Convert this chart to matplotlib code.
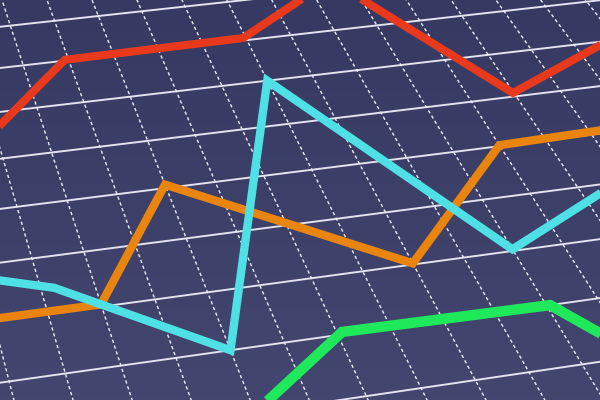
import numpy as np
import matplotlib
matplotlib.use("Agg")
import matplotlib.pyplot as plt
from matplotlib.transforms import Transform

# series values: x in grid columns, y in grid rows
red_x = [-1.0, 0.92, 4.94, 7.57, 9.98, 13.5]
red_y = [5.61, 7.02, 7.06, 8.28, 5.08, 6.23]
orange_x = [-2.0, 0.0, 2.0, 6.0, 9.0, 13.0]
orange_y = [2.04, 2.04, 4.07, 2.02, 4.02, 4.10]
cyan_x = [-2.5, -0.75, 2.0, 5.0, 8.0, 11.0]
cyan_y = [2.90, 2.43, 1.00, 6.00, 2.03, 3.05]
green_x = [2.0, 4.1, 8.07, 9.0]
green_y = [0.0, 1.04, 1.00, 0.10]

cols = np.arange(-3, 15)
rows = np.arange(-2, 10)

# camera: four grid corners and where they land in the picture (pixels)
grid_pts = [(0, 0), (12, 0), (12, 7), (0, 7)]
pix_pts = [(141.6, 429.2), (789.5, 333.9), (545.5, 6.36), (23.27, 65.37)]


def homography(src, dst):
    A, b = [], []
    for (u, v), (x, y) in zip(src, dst):
        A.append([u, v, 1, 0, 0, 0, -u * x, -v * x]); b.append(x)
        A.append([0, 0, 0, u, v, 1, -u * y, -v * y]); b.append(y)
    h = np.linalg.solve(np.array(A, float), np.array(b, float))
    return np.append(h, 1).reshape(3, 3)


class Perspective(Transform):
    input_dims = output_dims = 2
    is_separable = False

    def __init__(self, H):
        super().__init__()
        self.H = H

    def transform_non_affine(self, values):
        p = np.column_stack([values, np.ones(len(values))]) @ self.H.T
        return p[:, :2] / p[:, 2:3]


fig = plt.figure(figsize=(6, 4), dpi=100)
fig.patch.set_facecolor("#3b3e68")
ax = fig.add_axes([0, 0, 1, 1])
ax.set_xlim(0, 600)
ax.set_ylim(400, 0)
ax.axis("off")

# subtle vertical shading of the board
shade = np.linspace(0, 1, 200)[:, None]
ax.imshow(shade, extent=[0, 600, 400, 0], aspect="auto", zorder=0,
          cmap=matplotlib.colors.LinearSegmentedColormap.from_list(
              "bg", ["#363a62", "#43466f"]))

tr = Perspective(homography(grid_pts, pix_pts)) + ax.transData

for r in rows:
    ax.plot([cols[0], cols[-1]], [r, r], color="#e2e2f0", lw=1.4,
            transform=tr, zorder=1)
for c in cols:
    ax.plot([c, c], [rows[0], rows[-1]], color="#ececf6", lw=1.0,
            dashes=(2.4, 2.0), transform=tr, zorder=1)

style = dict(transform=tr, solid_joinstyle="miter", solid_capstyle="butt")
ax.plot(red_x, red_y, color="#e8391d", lw=5.8, zorder=3, **style)
ax.plot(orange_x, orange_y, color="#e9840f", lw=6.0, zorder=3, **style)
ax.plot(cyan_x, cyan_y, color="#4fe0e6", lw=6.0, zorder=4, **style)
ax.plot(green_x, green_y, color="#1fe85b", lw=7.5, zorder=3, **style)

fig.savefig("out.png", dpi=100, facecolor=fig.get_facecolor())
